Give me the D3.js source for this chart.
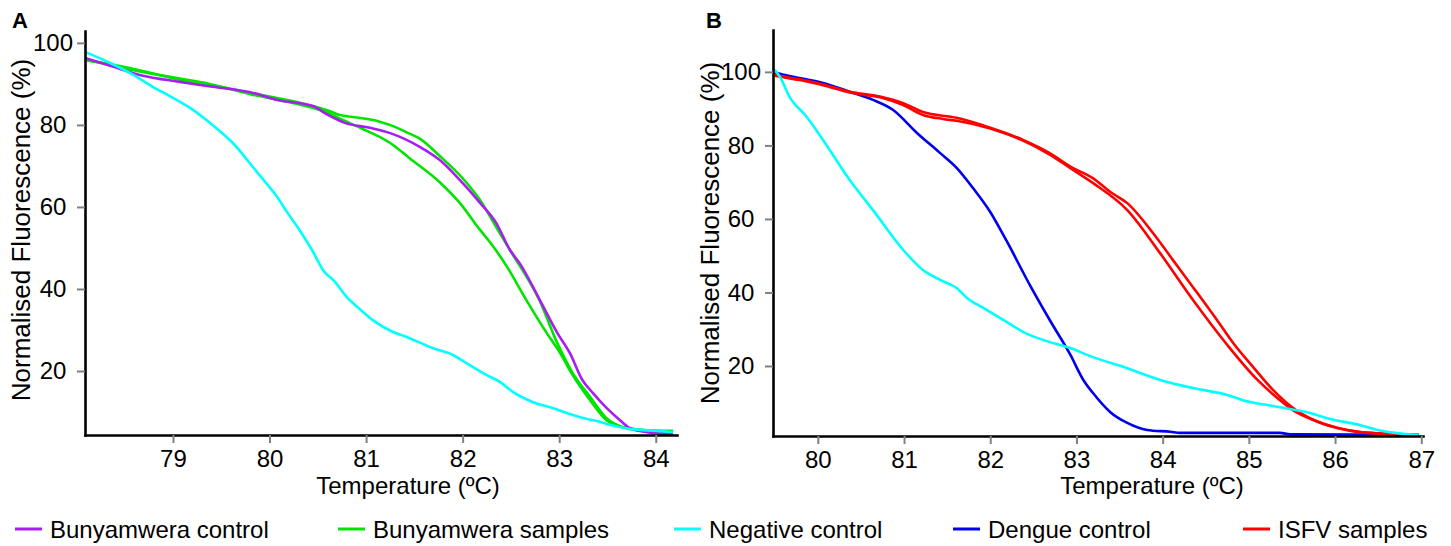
<!DOCTYPE html>
<html>
<head>
<meta charset="utf-8">
<script src="https://cdn.jsdelivr.net/npm/d3@7"></script>
<style>
  body { margin: 0; background: #fff; }
  text { font-family: "Liberation Sans", Arial, sans-serif; fill: #000; }
</style>
</head>
<body>
<svg id="chart" width="1451" height="546"></svg>
<script>
// melt curves, [temperature, normalised fluorescence]

// panel A
var bunyControl = [[78.09,96.3],[78.35,94.4],[78.69,92.0],[79.07,90.5],[79.41,89.3],[79.83,87.8],[80.08,86.1],[80.45,84.6],[80.6,82.5],[80.78,80.5],[81.04,79.3],[81.25,78.0],[81.56,74.6],[81.76,71.5],[81.97,66.6],[82.18,61.0],[82.35,56.0],[82.49,49.5],[82.59,46.3],[82.80,37.3],[82.98,29.3],[83.11,24.4],[83.24,17.8],[83.35,14.6],[83.49,11.0],[83.63,8.0],[83.73,6.1],[83.91,5.1],[84.18,4.6]]
var bunySample1 = [[78.09,95.8],[78.55,93.9],[79.07,91.0],[79.38,89.8],[79.80,87.8],[80.31,85.4],[80.62,83.4],[80.73,82.4],[80.94,81.7],[81.14,80.8],[81.28,79.7],[81.42,78.2],[81.56,76.6],[81.76,72.5],[82.0,67.0],[82.18,61.7],[82.35,55.0],[82.49,49.5],[82.80,37.0],[82.98,26.8],[83.14,19.5],[83.32,13.7],[83.49,8.5],[83.66,6.3],[83.84,5.6],[84.18,5.4]]
var bunySample2 = [[78.09,96.0],[78.55,93.5],[79.07,91.3],[79.38,90.0],[79.80,87.5],[80.31,85.0],[80.62,82.8],[80.73,81.5],[80.94,79.3],[81.25,75.6],[81.45,71.9],[81.76,66.1],[81.97,61.0],[82.18,54.4],[82.28,51.5],[82.46,45.4],[82.66,37.3],[82.87,29.3],[83.01,24.4],[83.14,19.0],[83.32,12.9],[83.49,8.0],[83.66,6.3],[84.18,5.1]]
var negA = [[78.09,97.8],[78.35,95.1],[78.59,92.2],[78.79,89.3],[79.0,86.6],[79.18,84.1],[79.41,80.0],[79.62,75.6],[79.87,68.5],[80.08,62.4],[80.18,58.8],[80.31,54.4],[80.44,49.5],[80.57,44.1],[80.66,42.2],[80.80,38.0],[80.94,35.0],[81.07,32.4],[81.28,29.5],[81.42,28.3],[81.69,25.6],[81.90,23.9],[82.04,21.9],[82.25,19.0],[82.39,17.3],[82.52,14.9],[82.73,12.4],[82.93,11.0],[83.14,9.3],[83.29,8.3],[83.39,7.8],[83.49,7.1],[83.73,5.9],[84.01,5.4],[84.18,5.1]]

// panel B
var negB = [[79.48,101.0],[79.56,98.7],[79.67,93.3],[79.87,87.8],[80.06,81.5],[80.37,70.6],[80.64,62.4],[80.99,51.6],[81.22,46.1],[81.42,43.4],[81.61,41.2],[81.73,38.5],[81.92,35.8],[82.19,32.0],[82.38,29.3],[82.61,27.1],[82.93,24.9],[83.19,22.4],[83.59,19.4],[83.97,16.2],[84.35,14.0],[84.75,12.1],[84.93,10.7],[85.33,8.9],[85.71,7.2],[85.91,5.8],[86.29,3.9],[86.49,2.6],[86.97,1.2]]
var dengue = [[79.48,100.0],[79.67,98.9],[80.06,97.0],[80.37,94.6],[80.64,92.4],[80.87,89.7],[81.15,83.4],[81.42,77.9],[81.61,73.9],[81.80,68.4],[82.0,61.9],[82.19,54.0],[82.46,42.0],[82.69,32.5],[82.93,23.0],[83.08,16.2],[83.19,12.7],[83.39,7.5],[83.59,4.5],[83.82,2.6],[84.09,2.1],[84.20,1.8],[85.36,1.8],[85.48,1.4],[86.97,1.3]]
var isfv1 = [[79.48,99.2],[80.06,96.6],[80.37,94.6],[80.72,93.3],[80.99,91.5],[81.22,89.1],[81.61,87.5],[82.0,84.8],[82.38,81.5],[82.69,77.9],[82.93,74.2],[83.19,71.1],[83.39,67.4],[83.59,64.3],[83.89,56.1],[84.12,48.8],[84.35,41.5],[84.63,32.5],[84.82,26.2],[85.05,19.7],[85.28,13.5],[85.51,8.6],[85.75,5.3],[86.03,3.1],[86.29,2.0],[86.68,1.5],[86.97,1.2]]
var isfv2 = [[79.48,99.0],[80.06,96.4],[80.37,94.4],[80.72,93.1],[80.99,91.0],[81.22,88.3],[81.45,87.2],[81.61,86.7],[82.0,84.6],[82.38,81.3],[82.69,77.5],[82.93,73.8],[83.19,69.8],[83.59,62.4],[83.97,50.7],[84.35,38.0],[84.75,25.7],[85.10,16.2],[85.33,11.3],[85.51,8.0],[85.75,5.3],[86.03,3.1],[86.29,2.0],[86.68,1.5],[86.97,1.2]]

var aTicksX = [79, 80, 81, 82, 83, 84]
var bTicksX = [80, 81, 82, 83, 84, 85, 86, 87]
var ticksY = [20, 40, 60, 80, 100]

var legendNames = ["Bunyamwera control", "Bunyamwera samples", "Negative control", "Dengue control", "ISFV samples"]

var purple = "#a81ef0", green = "#00e400", cyan = "#00ffff", blue = "#0000ee", red = "#ff0000"
var legendColors = [purple, green, cyan, blue, red]

var svg = d3.select("#chart")

function drawPanel(p) {
    var x = d3.scaleLinear().domain(p.xDomain).range([p.left, p.right])
    var y = d3.scaleLinear().domain(p.yDomain).range([p.bottom, p.top])
    var g = svg.append("g")

    var line = d3.line()
        .x(function (d) { return x(d[0]) })
        .y(function (d) { return y(d[1]) })
        .curve(d3.curveMonotoneX)

    p.series.forEach(function (s) {
        g.append("path")
            .datum(s.data)
            .attr("d", line)
            .attr("fill", "none")
            .attr("stroke", s.color)
            .attr("stroke-width", 2.6)
            .attr("stroke-linejoin", "round")
    })

    var xAxis = g.append("g")
        .attr("transform", "translate(0," + p.bottom + ")")
        .call(d3.axisBottom(x).tickValues(p.ticksX).tickFormat(d3.format("d")).tickSize(8).tickSizeOuter(0).tickPadding(7))
    var yAxis = g.append("g")
        .attr("transform", "translate(" + p.left + ",0)")
        .call(d3.axisLeft(y).tickValues(ticksY).tickSize(8).tickSizeOuter(0))

    ;[xAxis, yAxis].forEach(function (a) {
        a.select(".domain").attr("stroke", "#000").attr("stroke-width", 2.6).attr("stroke-linecap", "square")
        a.selectAll(".tick line").attr("stroke", "#808080").attr("stroke-width", 2)
        a.selectAll(".tick text").attr("font-size", 24).attr("font-family", null)
    })
    yAxis.selectAll(".tick text").attr("text-anchor", "middle").attr("x", -32)

    g.append("text")
        .attr("x", p.xLabelX).attr("y", 494)
        .attr("text-anchor", "middle").attr("font-size", 24)
        .text("Temperature (ºC)")
    g.append("text")
        .attr("transform", "translate(" + p.yLabelX + "," + p.yLabelY + ") rotate(-90)")
        .attr("text-anchor", "middle").attr("font-size", 26)
        .text("Normalised Fluorescence (%)")
    g.append("text")
        .attr("x", p.letterX).attr("y", 28)
        .attr("font-size", 22).attr("font-weight", "bold")
        .text(p.letter)
}

drawPanel({
    letter: "A", letterX: 12,
    xDomain: [78.089, 84.22], yDomain: [4.4, 102.9],
    left: 85, right: 677, top: 31, bottom: 435,
    ticksX: aTicksX, xLabelX: 408, yLabelX: 30, yLabelY: 230,
    series: [
        { data: bunySample1, color: green },
        { data: bunySample2, color: green },
        { data: bunyControl, color: purple },
        { data: negA, color: cyan }
    ]
})

drawPanel({
    letter: "B", letterX: 706,
    xDomain: [79.48, 87.02], yDomain: [0.95, 111.4],
    left: 773, right: 1423, top: 30, bottom: 436,
    ticksX: bTicksX, xLabelX: 1152, yLabelX: 719, yLabelY: 233,
    series: [
        { data: dengue, color: blue },
        { data: isfv1, color: red },
        { data: isfv2, color: red },
        { data: negB, color: cyan }
    ]
})

// legend along the bottom
var legendX = [15, 338, 674, 953, 1243]
var legend = svg.append("g")
legendNames.forEach(function (name, i) {
    legend.append("line")
        .attr("x1", legendX[i]).attr("x2", legendX[i] + 27)
        .attr("y1", 529).attr("y2", 529)
        .attr("stroke", legendColors[i]).attr("stroke-width", 3)
    legend.append("text")
        .attr("x", legendX[i] + 35).attr("y", 538)
        .attr("font-size", 24)
        .text(name)
})
</script>
</body>
</html>
